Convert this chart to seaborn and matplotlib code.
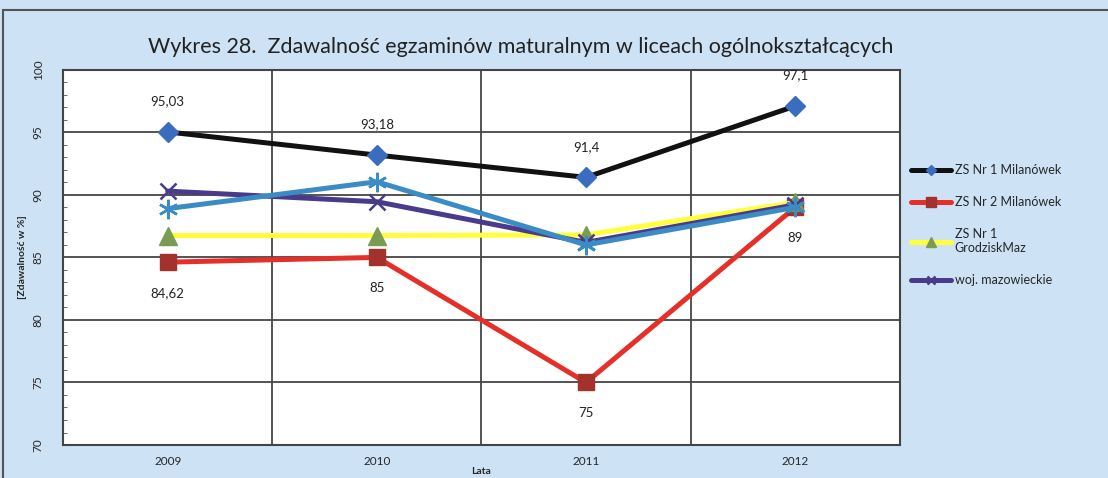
import matplotlib
matplotlib.use("Agg")
import matplotlib.pyplot as plt
import seaborn as sns
import pandas as pd
import numpy as np
from matplotlib.patches import Rectangle
from matplotlib.ticker import MultipleLocator, FixedLocator

# dane
years = ["2009", "2010", "2011", "2012"]
zs1_milanowek = [95.03, 93.18, 91.4, 97.1]
zs2_milanowek = [84.62, 85.0, 75.0, 89.0]
zs1_grodzisk = [86.75, 86.75, 86.8, 89.4]
woj_mazowieckie = [90.3, 89.45, 86.2, 89.2]
kraj = [88.9, 91.05, 86.0, 89.0]

labels_zs1 = ["95,03", "93,18", "91,4", "97,1"]
labels_zs2 = ["84,62", "85", "75", "89"]

sns.set_style("white")
plt.rcParams["font.family"] = ["Lato", "DejaVu Sans"]

bg = "#cde2f5"
fig = plt.figure(figsize=(11.08, 4.78), dpi=100, facecolor=bg)
ax = fig.add_axes([0.057, 0.069, 0.755, 0.785])
ax.set_facecolor("white")

pos = np.arange(len(years))

series = [
    ("ZS Nr 1 Milanówek", zs1_milanowek, "#111111", "D", "#3a6cc0", 10, 1),
    ("ZS Nr 2 Milanówek", zs2_milanowek, "#e5302a", "s", "#a3322c", 12, 1),
    ("ZS Nr 1\nGrodziskMaz", zs1_grodzisk, "#ffff3c", "^", "#7a9c52", 13, 1),
    ("woj. mazowieckie", woj_mazowieckie, "#4a3a8c", "x", "#4a3a8c", 11, 1.8),
    ("_nolegend_", kraj, "#3b8cc4", (6, 2, 0), "#3b8cc4", 14, 1.8),
]

for name, vals, col, mk, mcol, ms, mew in series:
    df = pd.DataFrame({"x": pos, "y": vals})
    sns.lineplot(data=df, x="x", y="y", ax=ax, color=col, linewidth=3.6,
                 marker=mk, markersize=ms, markerfacecolor=mcol,
                 markeredgecolor=mcol, markeredgewidth=mew, label=name)

# etykiety danych
for x, y, t in zip(pos, zs1_milanowek, labels_zs1):
    ax.annotate(t, (x, y), xytext=(0, 22), textcoords="offset points",
                ha="center", va="center", fontsize=9.5, color="#222222")
for x, y, t in zip(pos, zs2_milanowek, labels_zs2):
    ax.annotate(t, (x, y), xytext=(0, -22), textcoords="offset points",
                ha="center", va="center", fontsize=9.5, color="#222222")

ax.set_xlim(-0.5, 3.5)
ax.set_ylim(70, 100)
ax.set_xticks(pos)
ax.set_xticklabels(years, fontsize=8.5)
ax.xaxis.set_minor_locator(FixedLocator([0.5, 1.5, 2.5]))
ax.yaxis.set_major_locator(MultipleLocator(5))
ax.yaxis.set_minor_locator(MultipleLocator(1))
ax.grid(False)
ax.grid(axis="y", which="major", color="#454545", linewidth=1.3)
ax.grid(axis="x", which="minor", color="#454545", linewidth=1.3)
ax.tick_params(axis="x", which="both", length=0, pad=8)
ax.tick_params(axis="y", which="major", length=0, pad=14, labelsize=8.5,
               labelrotation=90)
ax.tick_params(axis="y", which="minor", direction="in", length=3,
               color="#555555", left=True)
for lab in ax.get_yticklabels():
    lab.set_verticalalignment("center")
for sp in ax.spines.values():
    sp.set_color("#444444")
    sp.set_linewidth(1.5)

ax.set_xlabel("Lata", fontsize=7.5, fontweight="bold", labelpad=0)
ax.set_ylabel("[Zdawalność w %]", fontsize=7.5, fontweight="bold", labelpad=4)

fig.text(0.47, 0.902, "Wykres 28.  Zdawalność egzaminów maturalnym w liceach ogólnokształcących",
         ha="center", va="center", fontsize=15.5, color="#222222")

handles, lbls = ax.get_legend_handles_labels()
ax.legend_.remove()
fig.legend(handles, lbls, loc="upper left", bbox_to_anchor=(0.812, 0.68),
           frameon=False, fontsize=9, handlelength=3.2, labelspacing=1.6,
           handletextpad=0.3, markerscale=0.55)

# ramka wykresu
fig.patches.append(Rectangle((0.003, -0.02), 1.2, 0.999,
                             transform=fig.transFigure, fill=False,
                             edgecolor="#555555", linewidth=1.5))

fig.savefig("out.png", dpi=100, facecolor=bg)
